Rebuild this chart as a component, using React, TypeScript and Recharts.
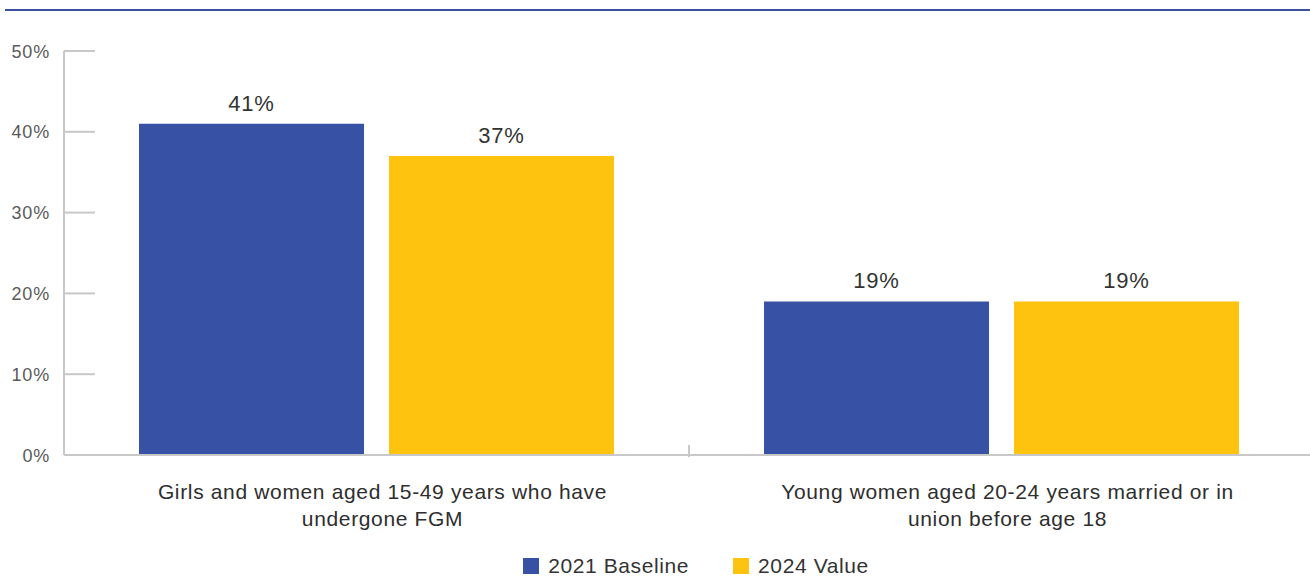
import React from 'react';
import { BarChart, Bar, XAxis, YAxis, LabelList, Legend } from 'recharts';

const categories = [
  'Girls and women aged 15-49 years who have|undergone FGM',
  'Young women aged 20-24 years married or in|union before age 18',
];
const baseline2021 = [41, 19];
const value2024 = [37, 19];
const yTicks = [0, 10, 20, 30, 40, 50];
const seriesNames = ['2021 Baseline', '2024 Value'];

const data = categories.map((c, i) => ({ cat: c, b: baseline2021[i], v: value2024[i] }));

const FONT = '"Liberation Sans", Arial, sans-serif';
const BLUE = '#3751A4';
const YELLOW = '#FEC30F';
const GRID = '#C8C8C8';

const YTick = (props: any) => {
  const { x, y, payload } = props;
  return (
    <g>
      <line x1={x} x2={x + 31} y1={y} y2={y} stroke={GRID} strokeWidth={2} />
      <text x={x - 14} y={y} dy={6.5} textAnchor="end" fontSize={18} letterSpacing={0.8} fill="#5a5a5a" fontFamily={FONT}>
        {payload.value}%
      </text>
    </g>
  );
};

const XTick = (props: any) => {
  const { x, y, payload, index } = props;
  const lines = String(payload.value).split('|');
  const off = payload.offset || 0;
  return (
    <g>
      {index === 0 && (
        <line x1={x + off} x2={x + off} y1={y - 12} y2={y} stroke={GRID} strokeWidth={2} />
      )}
      <text x={x + 6} y={y} textAnchor="middle" fontSize={21} letterSpacing={0.65} fill="#2e2e2e" fontFamily={FONT}>
        {lines.map((l, i) => (
          <tspan key={i} x={x + 6} dy={i === 0 ? 42 : 27}>{l}</tspan>
        ))}
      </text>
    </g>
  );
};

const LegendContent = () => {
  const colors = [BLUE, YELLOW];
  return (
    <div style={{ display: 'flex', justifyContent: 'center', fontFamily: FONT, fontSize: 21, letterSpacing: 0.6, color: '#333', paddingLeft: 78 }}>
      {seriesNames.map((n, i) => (
        <div key={n} style={{ display: 'flex', alignItems: 'center', marginLeft: i === 0 ? 0 : 44 }}>
          <span style={{ display: 'inline-block', width: 16, height: 16, background: colors[i], marginRight: 9 }} />
          <span>{n}</span>
        </div>
      ))}
    </div>
  );
};

const labelStyle = { fontSize: 22, fill: '#333', fontFamily: FONT, letterSpacing: 0.8 };

export default function App() {
  return (
    <div style={{ position: 'absolute', left: 0, top: 0, width: 1310, height: 576, overflow: 'hidden', background: '#fff' }}>
      <div style={{ position: 'absolute', left: 5, top: 9, width: 1305, height: 2, background: '#3A4F9F' }} />
      <BarChart
        width={1314}
        height={576}
        data={data}
        margin={{ top: 51, right: 0, left: 0, bottom: 67 }}
        barGap={25}
        barCategoryGap={75}
      >
        <YAxis
          width={64}
          domain={[0, 50]}
          ticks={yTicks}
          tickLine={false}
          tickSize={0}
          tickMargin={0}
          axisLine={{ stroke: GRID, strokeWidth: 2 }}
          tick={<YTick />}
          interval={0}
        />
        <XAxis
          dataKey="cat"
          tickLine={false}
          tickSize={0}
          axisLine={{ stroke: GRID, strokeWidth: 2 }}
          tick={<XTick />}
          interval={0}
        />
        <Legend verticalAlign="bottom" content={<LegendContent />} wrapperStyle={{ bottom: -2, left: 0, width: 1314 }} />
        <Bar dataKey="b" name={seriesNames[0]} fill={BLUE} isAnimationActive={false}>
          <LabelList dataKey="b" position="top" offset={13} formatter={(v: any) => `${v}%`} style={labelStyle} />
        </Bar>
        <Bar dataKey="v" name={seriesNames[1]} fill={YELLOW} isAnimationActive={false}>
          <LabelList dataKey="v" position="top" offset={13} formatter={(v: any) => `${v}%`} style={labelStyle} />
        </Bar>
      </BarChart>
    </div>
  );
}
